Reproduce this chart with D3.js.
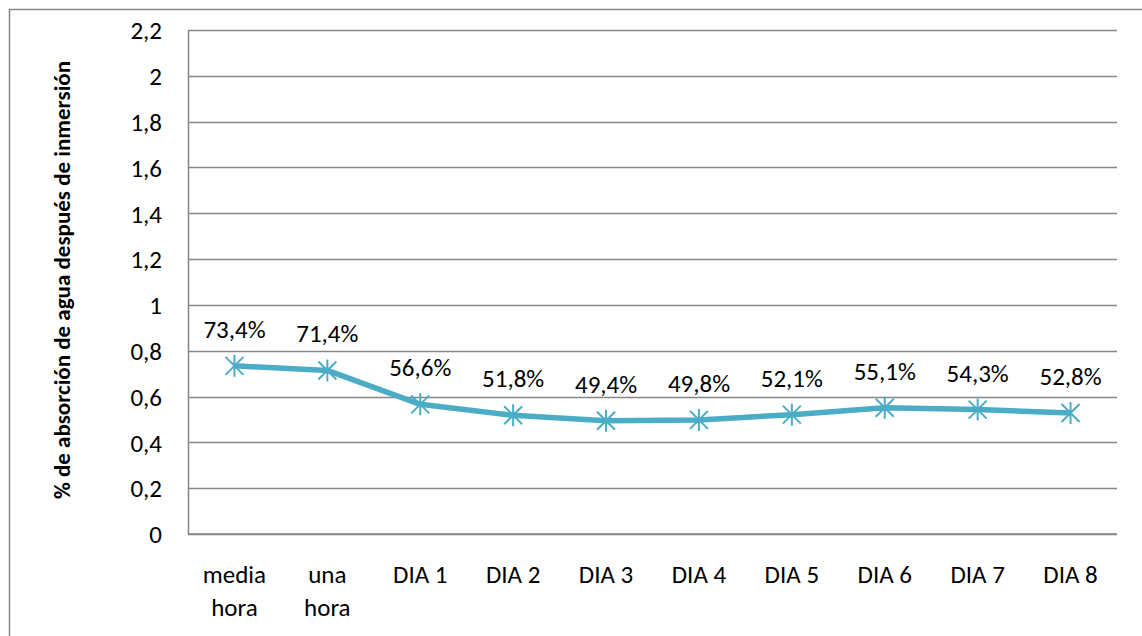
<!DOCTYPE html>
<html>
<head>
<meta charset="utf-8">
<script src="https://cdn.jsdelivr.net/npm/d3@7/dist/d3.min.js"></script>
<style>
  html, body { margin: 0; padding: 0; background: #fff; }
  svg { display: block; }
  text { font-family: Carlito, Calibri, Lato, "Open Sans", sans-serif; fill: #000; }
</style>
</head>
<body>
<svg id="chart" width="1142" height="636"></svg>
<script>
// Water absorption after immersion, per elapsed time
const categories = [["media", "hora"], ["una", "hora"], ["DIA 1"], ["DIA 2"], ["DIA 3"], ["DIA 4"], ["DIA 5"], ["DIA 6"], ["DIA 7"], ["DIA 8"]];
const values = [0.734, 0.714, 0.566, 0.518, 0.494, 0.498, 0.521, 0.551, 0.543, 0.528];
const yTicks = [0, 0.2, 0.4, 0.6, 0.8, 1, 1.2, 1.4, 1.6, 1.8, 2, 2.2];
const yTitle = "% de absorción de agua después de inmersión";

const svg = d3.select("#chart");
const W = 1142, H = 636;
const plot = { left: 188, top: 30, right: 1117, bottom: 534 };
const lineColor = "#4bacc6";
const gridColor = "#868686";
const fmtComma = d => d3.format("~g")(d).replace(".", ",");
const fmtPct = d => d3.format(".1f")(d * 100).replace(".", ",") + "%";

// chart-area frame
svg.append("rect")
  .attr("x", 9.5).attr("y", 9.5)
  .attr("width", W + 20).attr("height", H + 20)
  .attr("fill", "#fff").attr("stroke", gridColor).attr("stroke-width", 1.5);

const x = d3.scaleBand()
  .domain(categories.map((c, i) => i))
  .range([plot.left, plot.right]);
const y = d3.scaleLinear()
  .domain([0, 2.2])
  .range([plot.bottom, plot.top]);

// horizontal gridlines
svg.append("g")
  .selectAll("line")
  .data(yTicks)
  .join("line")
  .attr("x1", plot.left).attr("x2", plot.right)
  .attr("y1", d => Math.round(y(d)) + 0.5).attr("y2", d => Math.round(y(d)) + 0.5)
  .attr("stroke", gridColor).attr("stroke-width", 1.5);

// value axis
const yAxis = svg.append("g")
  .attr("transform", `translate(${plot.left},0)`)
  .call(d3.axisLeft(y).tickValues(yTicks).tickFormat(fmtComma).tickSize(0).tickPadding(26));
yAxis.select(".domain").attr("stroke", gridColor).attr("stroke-width", 1.5);
yAxis.selectAll("text")
  .style("font-size", "25px")
  .attr("dy", "0.35em");

// category axis
const xAxis = svg.append("g")
  .attr("transform", `translate(0,${plot.bottom})`)
  .call(d3.axisBottom(x).tickSize(0).tickFormat(() => ""));
xAxis.select(".domain").remove();
xAxis.selectAll(".tick text").remove();
xAxis.selectAll(".tick")
  .append("text")
  .attr("text-anchor", "middle")
  .style("font-size", "25px")
  .selectAll("tspan")
  .data(i => categories[i])
  .join("tspan")
  .attr("x", 0)
  .attr("y", (d, j) => 49 + j * 33)
  .text(d => d);

// bottom line of the plot
svg.append("line")
  .attr("x1", plot.left).attr("x2", plot.right)
  .attr("y1", y(0)).attr("y2", y(0))
  .attr("stroke", gridColor).attr("stroke-width", 1.5);

// axis title
svg.append("text")
  .attr("transform", `translate(70,${(plot.top + plot.bottom) / 2 - 2}) rotate(-90)`)
  .attr("text-anchor", "middle")
  .style("font-size", "23px")
  .style("font-weight", "bold")
  .text(yTitle);

const cx = i => x(i) + x.bandwidth() / 2;

// series line
svg.append("path")
  .datum(values)
  .attr("d", d3.line().x((d, i) => cx(i)).y(d => y(d)))
  .attr("fill", "none")
  .attr("stroke", lineColor)
  .attr("stroke-width", 5.5)
  .attr("stroke-linejoin", "round");

// star markers
const r = 11, a = 9;
const starPath = `M${-a},${-a}L${a},${a}M${-a},${a}L${a},${-a}M0,${-r}L0,${r}`;
svg.append("g")
  .selectAll("path")
  .data(values)
  .join("path")
  .attr("transform", (d, i) => `translate(${cx(i)},${y(d)})`)
  .attr("d", starPath)
  .attr("stroke", lineColor)
  .attr("stroke-width", 2)
  .attr("fill", "none");

// data labels
svg.append("g")
  .selectAll("text")
  .data(values)
  .join("text")
  .attr("x", (d, i) => cx(i))
  .attr("y", d => y(d) - 28)
  .attr("text-anchor", "middle")
  .style("font-size", "25px")
  .text(d => fmtPct(d));
</script>
</body>
</html>
